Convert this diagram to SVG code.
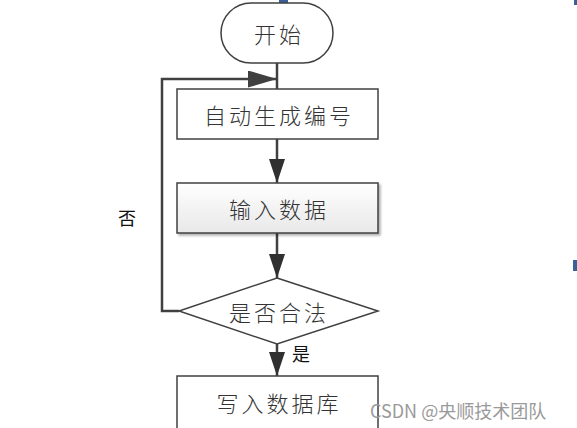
<svg xmlns="http://www.w3.org/2000/svg" width="577" height="428" viewBox="0 0 577 428">
<style>
.node{fill:#ffffff;stroke:#404040;stroke-width:1.5}
.lbl{font-family:"Noto Sans CJK SC","Noto Sans",sans-serif;font-size:22px;font-weight:300;letter-spacing:3px;fill:#333;text-anchor:middle;dominant-baseline:central}
.sm{font-family:"Noto Sans CJK SC","Noto Sans",sans-serif;font-size:18px;fill:#111;text-anchor:middle;dominant-baseline:central}
.conn{fill:none;stroke:#404040;stroke-width:2.5}
.wm{font-family:"Noto Sans CJK SC","Noto Sans",sans-serif;font-size:18px;fill:#9a9a9a;dominant-baseline:central}
</style>
<defs>
<marker id="ah" viewBox="0 0 24 16" refX="24" refY="8" markerUnits="userSpaceOnUse" markerWidth="24" markerHeight="16" orient="auto">
<path d="M0,0 L24,8 L0,16 Z" fill="#303030"/>
</marker>
<marker id="ah2" viewBox="0 0 29 17" refX="29" refY="8.5" markerUnits="userSpaceOnUse" markerWidth="29" markerHeight="17" orient="auto">
<path d="M0,0 L29,8.5 L0,17 Z" fill="#404040"/>
</marker>
<linearGradient id="g" x1="0" y1="0" x2="0" y2="1">
<stop offset="0" stop-color="#ffffff"/>
<stop offset="1" stop-color="#e8e8e8"/>
</linearGradient>
<filter id="sh" x="-10%" y="-10%" width="130%" height="140%">
<feDropShadow dx="2" dy="2" stdDeviation="1.2" flood-color="#000" flood-opacity="0.3"/>
</filter>
</defs>
<rect width="577" height="428" fill="#ffffff"/>
<rect x="279" y="0" width="9" height="3" fill="#3d5f98"/>
<rect x="574" y="0" width="3" height="5" fill="#3d5f98"/>
<rect x="573" y="260" width="4" height="11" fill="#3d5f98"/>
<g id="connectors">
<line class="conn" x1="277" y1="63" x2="277" y2="89"/>
<line class="conn" x1="277" y1="139" x2="277" y2="183" marker-end="url(#ah)"/>
<line class="conn" x1="277" y1="233" x2="277" y2="278" marker-end="url(#ah)"/>
<line class="conn" x1="277" y1="344" x2="277" y2="376" marker-end="url(#ah)"/>
<polyline class="conn" points="179,311 162,311 162,79 277,79" marker-end="url(#ah2)"/>
<text class="sm" x="127" y="217">否</text>
<text class="sm" x="301" y="353">是</text>
</g>
<g id="start">
<rect class="node" x="221" y="3" width="112" height="60" rx="30" ry="30"/>
<text class="lbl" x="279" y="33">开始</text>
</g>
<g id="gen">
<rect class="node" x="177" y="89" width="201" height="50"/>
<text class="lbl" x="279" y="114">自动生成编号</text>
</g>
<g id="input">
<rect class="node" x="177" y="183" width="201" height="50" fill="url(#g)" style="fill:url(#g)" filter="url(#sh)"/>
<text class="lbl" x="279" y="208">输入数据</text>
</g>
<g id="check">
<polygon class="node" points="277,278 378,311 277,344 179,311"/>
<text class="lbl" x="279" y="311">是否合法</text>
</g>
<g id="write">
<rect class="node" x="177" y="376" width="201" height="60"/>
<text class="lbl" x="279" y="402">写入数据库</text>
</g>
<text class="wm" x="370" y="410">CSDN @央顺技术团队</text>
</svg>
